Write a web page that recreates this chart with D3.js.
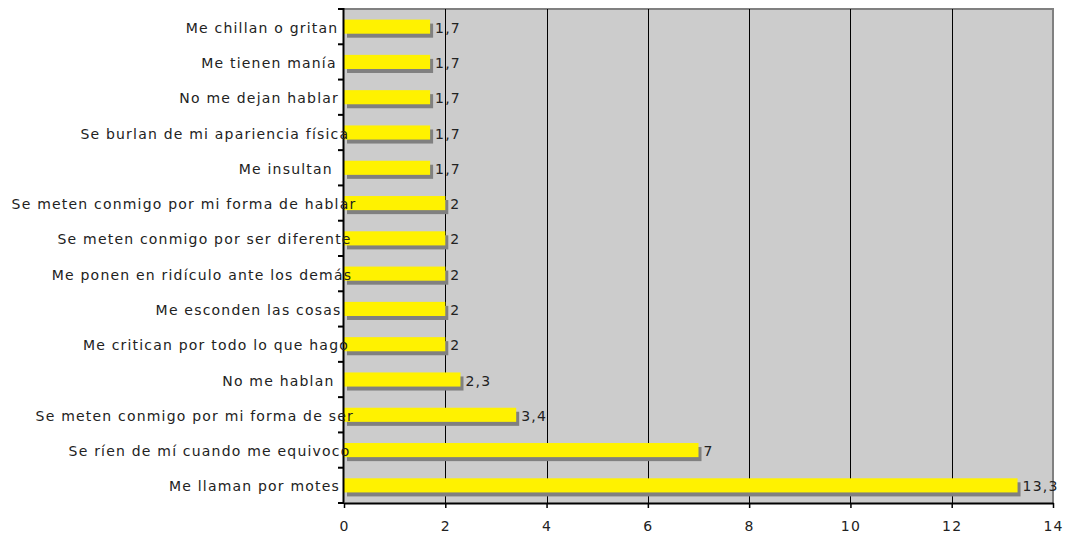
<!DOCTYPE html>
<html>
<head>
<meta charset="utf-8">
<script src="https://cdn.jsdelivr.net/npm/d3@7"></script>
<style>
    body { margin: 0; background: #fff; }
    text { font-family: "DejaVu Sans", Verdana, sans-serif; font-size: 14px; fill: #222; letter-spacing: 1.2px; }
</style>
</head>
<body>
<svg id="chart" width="1068" height="536"></svg>
<script>
const categories = [
    'Me chillan o gritan',
    'Me tienen manía',
    'No me dejan hablar',
    'Se burlan de mi apariencia física',
    'Me insultan',
    'Se meten conmigo por mi forma de hablar',
    'Se meten conmigo por ser diferente',
    'Me ponen en ridículo ante los demás',
    'Me esconden las cosas',
    'Me critican por todo lo que hago',
    'No me hablan',
    'Se meten conmigo por mi forma de ser',
    'Se ríen de mí cuando me equivoco',
    'Me llaman por motes',
];
const values = [1.7, 1.7, 1.7, 1.7, 1.7, 2, 2, 2, 2, 2, 2.3, 3.4, 7, 13.3];
const xTicks = [0, 2, 4, 6, 8, 10, 12, 14];

const data = categories.map((c, i) => ({ name: c, value: values[i] }));

const svg = d3.select('#chart');
const plotLeft = 344;
const plotRight = 1053;
const plotTop = 9;
const plotBottom = 503;

const x = d3.scaleLinear().domain([0, 14]).range([plotLeft, plotRight]);
const y = d3
    .scaleBand()
    .domain(categories)
    .range([plotTop, plotBottom])
    .paddingInner(0.6)
    .paddingOuter(0.3);

// plot background
svg.append('rect')
    .attr('x', plotLeft)
    .attr('y', plotTop)
    .attr('width', plotRight - plotLeft)
    .attr('height', plotBottom - plotTop)
    .attr('fill', '#cccccc');

// top and right border
svg.append('path')
    .attr('d', `M${plotLeft},${plotTop}H${plotRight}V${plotBottom}`)
    .attr('fill', 'none')
    .attr('stroke', '#808080')
    .attr('stroke-width', 2);

// gridlines
svg.selectAll('.grid')
    .data(xTicks.filter((t) => t > 0 && t < 14))
    .enter()
    .append('line')
    .attr('class', 'grid')
    .attr('x1', (d) => Math.round(x(d)) + 0.5)
    .attr('x2', (d) => Math.round(x(d)) + 0.5)
    .attr('y1', plotTop)
    .attr('y2', plotBottom)
    .attr('stroke', '#000')
    .attr('stroke-width', 1);

// bar shadows
svg.selectAll('.shadow')
    .data(data)
    .enter()
    .append('rect')
    .attr('class', 'shadow')
    .attr('x', x(0) + 3)
    .attr('y', (d) => y(d.name) + 4)
    .attr('width', (d) => x(d.value) - x(0))
    .attr('height', y.bandwidth())
    .attr('fill', '#808080');

// bars
svg.selectAll('.bar')
    .data(data)
    .enter()
    .append('rect')
    .attr('class', 'bar')
    .attr('x', x(0))
    .attr('y', (d) => y(d.name))
    .attr('width', (d) => x(d.value) - x(0))
    .attr('height', y.bandwidth())
    .attr('fill', '#fff200');

// value labels
svg.selectAll('.val')
    .data(data)
    .enter()
    .append('text')
    .attr('class', 'val')
    .attr('x', (d) => x(d.value) + 5)
    .attr('y', (d) => y(d.name) + y.bandwidth() / 2 + 1)
    .attr('dominant-baseline', 'central')
    .text((d) => String(d.value).replace('.', ','));

// x axis
const xAxis = svg.append('g')
    .attr('transform', `translate(0,${plotBottom})`)
    .call(d3.axisBottom(x).tickValues(xTicks).tickSize(5).tickSizeOuter(0).tickPadding(13));
xAxis.select('.domain').attr('stroke', '#000').attr('stroke-width', 2);
xAxis.selectAll('.tick line').attr('stroke', '#000').attr('stroke-width', 1.5);
xAxis.selectAll('.tick text')
    .attr('font-size', null)
    .attr('font-family', null)
    .attr('fill', '#222');

// y axis line and boundary ticks
const boundaries = d3.range(categories.length + 1).map((i) => plotTop + i * y.step());
svg.append('line')
    .attr('x1', plotLeft - 0.5)
    .attr('x2', plotLeft - 0.5)
    .attr('y1', plotTop - 1)
    .attr('y2', plotBottom)
    .attr('stroke', '#000')
    .attr('stroke-width', 2);
svg.selectAll('.ytick')
    .data(boundaries)
    .enter()
    .append('line')
    .attr('class', 'ytick')
    .attr('x1', plotLeft - 6)
    .attr('x2', plotLeft)
    .attr('y1', (d) => d)
    .attr('y2', (d) => d)
    .attr('stroke', '#000')
    .attr('stroke-width', 2);

// category labels
const labels = svg.selectAll('.cat')
    .data(data)
    .enter()
    .append('text')
    .attr('class', 'cat')
    .attr('text-anchor', 'end')
    .attr('y', (d) => y(d.name) + y.bandwidth() / 2 + 1)
    .attr('dominant-baseline', 'central')
    .text((d) => d.name);

labels.attr('x', function () {
    const w = this.getComputedTextLength();
    return 324 + 0.094 * w;
});
</script>
</body>
</html>
